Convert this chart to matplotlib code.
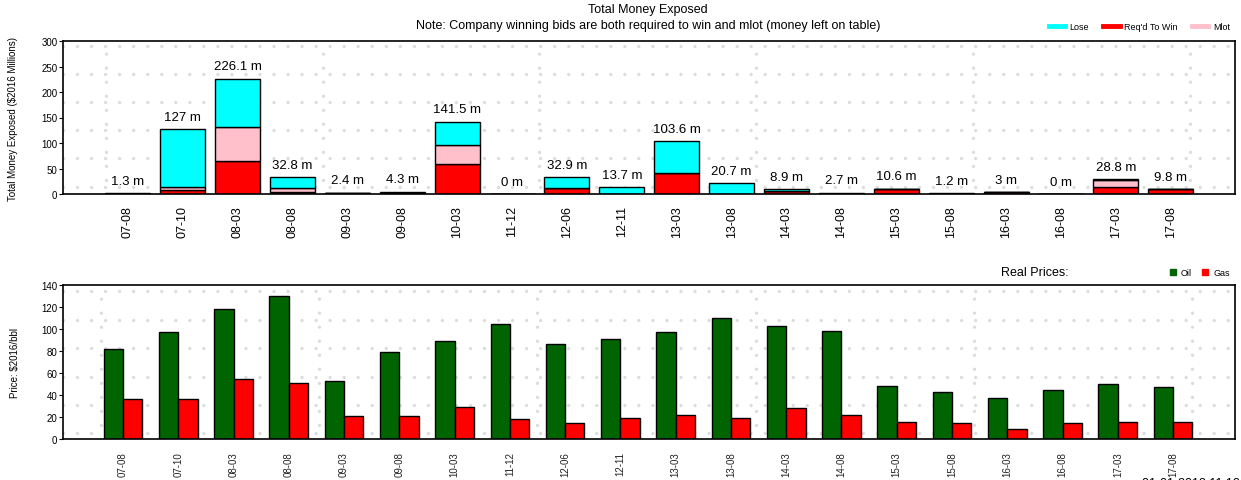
import numpy as np
import matplotlib
matplotlib.use('Agg')
import matplotlib.pyplot as plt
from matplotlib.lines import Line2D

plt.rcParams['font.family'] = ['Liberation Sans', 'DejaVu Sans']

# lease sale periods
periods = ['07-08', '07-10', '08-03', '08-08', '09-03', '09-08', '10-03', '11-12',
           '12-06', '12-11', '13-03', '13-08', '14-03', '14-08', '15-03', '15-08',
           '16-03', '16-08', '17-03', '17-08']

# money exposed, $2016 millions
reqd_to_win = [0.6, 8.0, 64.0, 3.5, 1.2, 2.2, 58.7, 0, 11.1, 0, 41.0, 0, 6.5, 0,
               10.6, 0.6, 3.0, 0, 13.1, 9.8]
mlot = [0, 5.0, 66.5, 7.5, 0, 0, 36.6, 0, 0, 0, 0, 0, 0, 0, 0, 0, 0, 0, 14.0, 0]
lose = [0.7, 114.0, 95.6, 21.8, 1.2, 2.1, 46.2, 0, 21.8, 13.7, 62.6, 20.7, 2.4, 2.7,
        0, 0.6, 0, 0, 1.7, 0]
totals = [1.3, 127, 226.1, 32.8, 2.4, 4.3, 141.5, 0, 32.9, 13.7, 103.6, 20.7, 8.9,
          2.7, 10.6, 1.2, 3, 0, 28.8, 9.8]

# real prices
oil = [81.8, 97.3, 118.2, 130.0, 52.7, 79.1, 89.1, 104.5, 86.4, 90.9, 97.3, 110.0,
       102.7, 98.5, 48.2, 42.7, 37.3, 44.5, 50.0, 47.3]
gas = [36.4, 36.4, 54.5, 50.9, 20.9, 20.9, 29.1, 18.2, 14.5, 19.1, 21.8, 19.1,
       28.2, 21.8, 15.5, 14.5, 9.1, 14.5, 15.5, 15.5]

# background dotted grid positions
grid_x = [-0.4, 3.55, 7.5, 11.45, 15.4, 19.35]
grid_top_y = [13.6, 70, 124.7, 181, 235.7, 290]
grid_bot_y = [5.7, 31.2, 56.6, 83, 108.5, 134.8]

W, H = 1241, 481


def px_axes(fig, left, top, right, bottom):
    return fig.add_axes([left / W, 1 - bottom / H, (right - left) / W, (bottom - top) / H])


def dotted_grid(ax, ys):
    kw = dict(color='#dcdcdc', lw=2.4, linestyle=(0, (0.01, 4.2)),
              dash_capstyle='round', zorder=0)
    for y in ys:
        ax.axhline(y, **kw)
    for x in grid_x:
        ax.axvline(x, **kw)


fig = plt.figure(figsize=(W / 100, H / 100), dpi=100)
x = np.arange(len(periods))

# --- top: total money exposed ---
ax1 = px_axes(fig, 63, 42, 1235, 195)
dotted_grid(ax1, grid_top_y)
red = np.array(reqd_to_win)
pink = np.array(mlot)
cyan = np.array(lose)
ax1.bar(x, red, width=0.82, color='red', edgecolor='black', lw=1, zorder=2)
ax1.bar(x, pink, width=0.82, bottom=red, color='pink', edgecolor='black', lw=1, zorder=2)
ax1.bar(x, cyan, width=0.82, bottom=red + pink, color='cyan', edgecolor='black', lw=1,
        zorder=2)
for xi, t in zip(x, totals):
    ax1.annotate('%g m' % t, (xi, t), xytext=(0, 9), textcoords='offset points',
                 ha='center', va='center', fontsize=9.5)
ax1.set_xlim(-1.18, len(periods) - 1 + 1.17)
ax1.set_ylim(0, 300)
ax1.set_yticks(range(0, 301, 50))
ax1.set_xticks(x)
ax1.set_xticklabels(periods, rotation=90, fontsize=9)
ax1.tick_params(axis='x', length=0, pad=8)
ax1.tick_params(axis='y', labelsize=7, length=3, pad=1)
ax1.set_ylabel('Total Money Exposed ($2016 Millions)', fontsize=7, labelpad=17)
for s in ax1.spines.values():
    s.set_linewidth(1.2)

fig.text(648 / W, 1 - 10 / H, 'Total Money Exposed', ha='center', va='center', fontsize=9)
fig.text(648 / W, 1 - 26 / H,
         'Note: Company winning bids are both required to win and mlot (money left on table)',
         ha='center', va='center', fontsize=9)

handles = [Line2D([], [], color='cyan', lw=3.5),
           Line2D([], [], color='red', lw=3.5),
           Line2D([], [], color='pink', lw=3.5)]
fig.legend(handles, ['Lose', "Req'd To Win", 'Mlot'], loc='center right',
           bbox_to_anchor=(1238 / W, 1 - 28 / H), ncol=3, frameon=False, fontsize=6.5,
           handlelength=1.8, handletextpad=0.5, columnspacing=1.6)

# --- bottom: real prices ---
ax2 = px_axes(fig, 63, 286, 1235, 440)
dotted_grid(ax2, grid_bot_y)
ax2.bar(x - 0.175, oil, width=0.35, color='#006400', edgecolor='black', lw=1, zorder=2)
ax2.bar(x + 0.175, gas, width=0.35, color='red', edgecolor='black', lw=1, zorder=2)
ax2.set_xlim(-1.085, len(periods) - 1 + 1.12)
ax2.set_ylim(0, 140)
ax2.set_yticks(range(0, 141, 20))
ax2.set_xticks(x)
ax2.set_xticklabels(periods, rotation=90, fontsize=7, color='#222222')
ax2.tick_params(axis='x', length=0, pad=9)
ax2.tick_params(axis='y', labelsize=7, length=3, pad=1)
ax2.set_ylabel('Price: $2016/bbl', fontsize=7, labelpad=15)
for s in ax2.spines.values():
    s.set_linewidth(1.2)

fig.text(1035 / W, 1 - 273 / H, 'Real Prices:', ha='center', va='center', fontsize=9)
sq = [Line2D([], [], color='#006400', marker='s', lw=0, markersize=4),
      Line2D([], [], color='red', marker='s', lw=0, markersize=4)]
fig.legend(sq, ['Oil', 'Gas'], loc='center right', bbox_to_anchor=(1238 / W, 1 - 274 / H),
           ncol=2, frameon=False, fontsize=6.5, handlelength=1, handletextpad=0.4,
           columnspacing=1.0)

fig.text(1240 / W, 1 - 484 / H, '01-01-2018 11:10', ha='right', va='center', fontsize=9)

fig.savefig('out.png', dpi=100)
